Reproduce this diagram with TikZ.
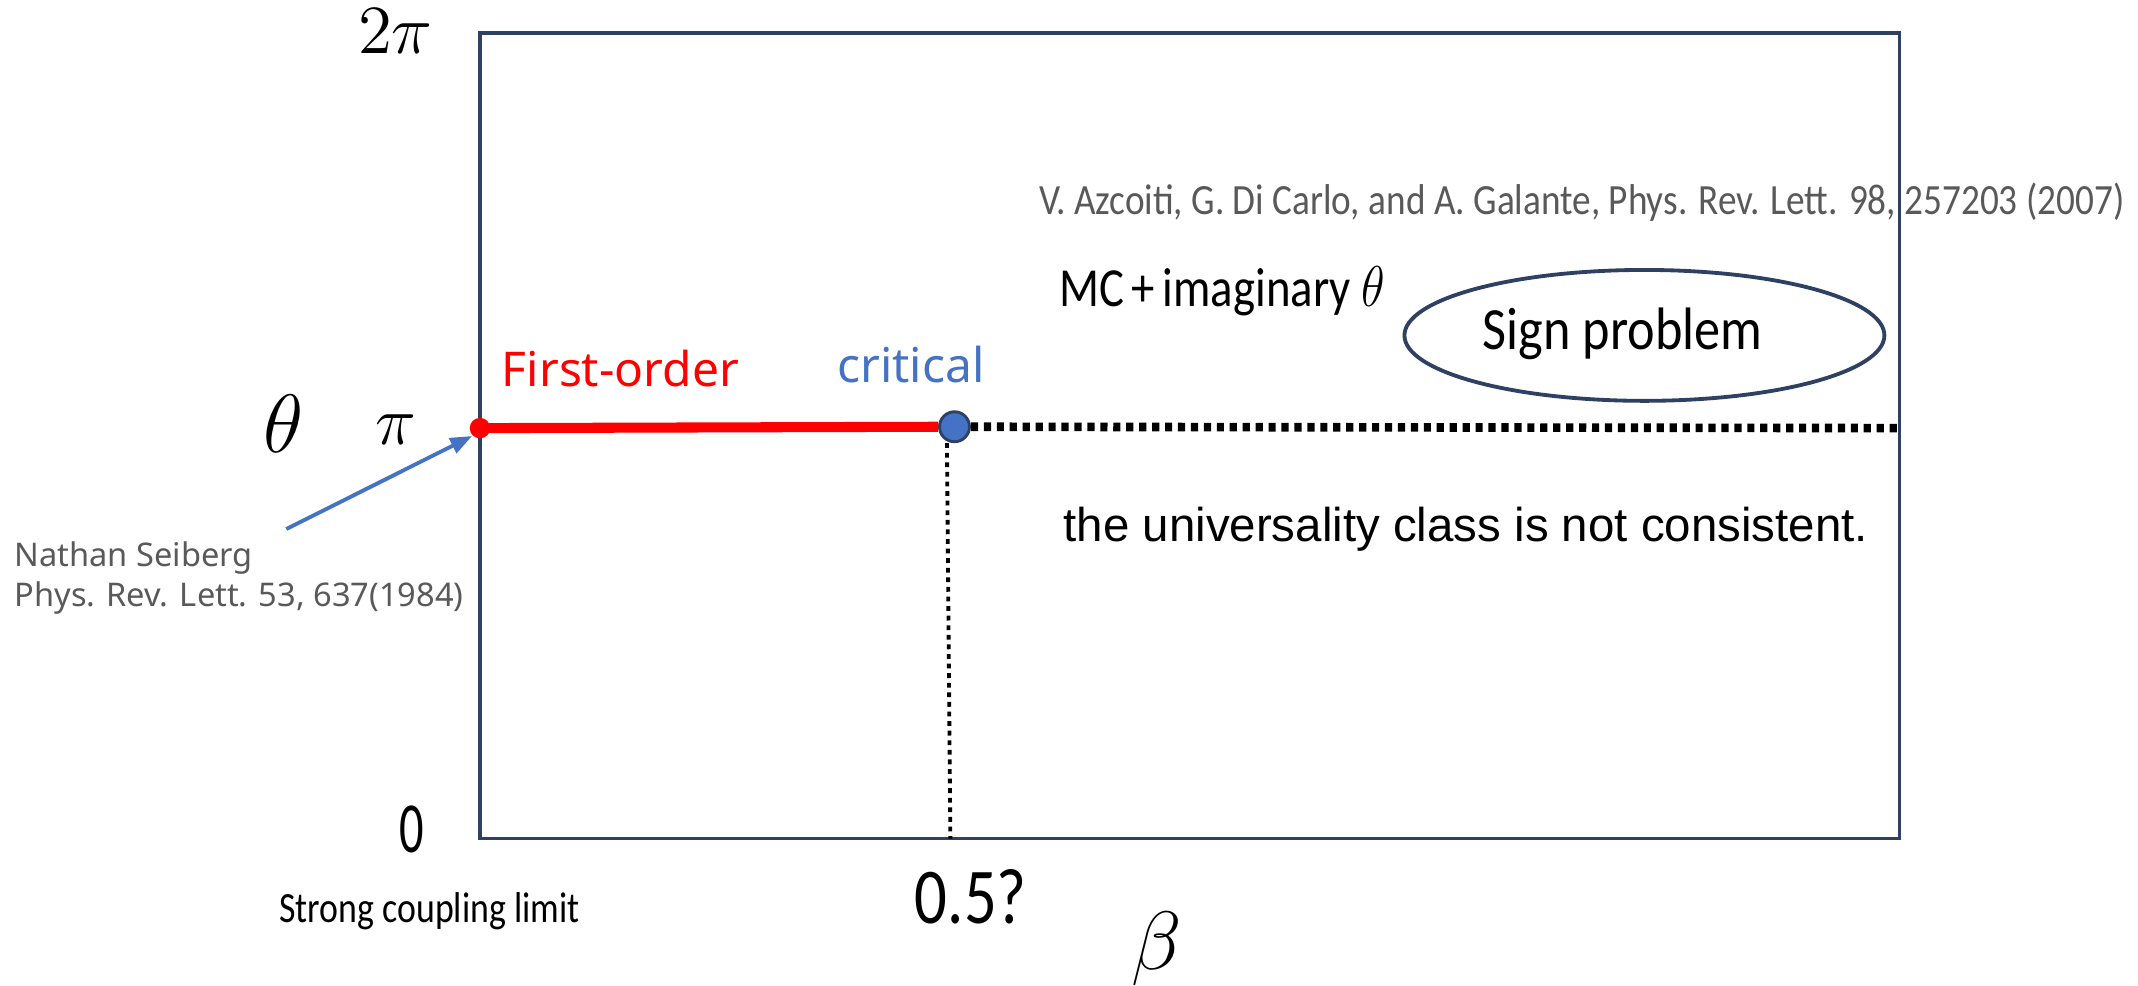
\documentclass[tikz,border=0pt]{standalone}
\usepackage{fontspec}
\usepackage{graphicx}
\setmainfont{Carlito}
\newfontfamily\gothfont{Noto Sans}
\newfontfamily\arialfont{Liberation Sans}
\usetikzlibrary{arrows.meta,shapes.geometric}
\definecolor{navy}{HTML}{2F4163}
\definecolor{refblue}{HTML}{4472C4}
\definecolor{refgray}{HTML}{595959}
\newcommand{\fitw}[2]{\resizebox{#1}{\height}{#2}}

\begin{document}
\begin{tikzpicture}[
  lbl/.style={inner sep=0pt},
  bigdots/.style={line width=1.8pt,dash pattern=on 1.5pt off 1.2pt},
  smalldots/.style={line width=0.8pt,dash pattern=on 1pt off 1pt}]
\useasboundingbox (0,0) rectangle (15.68,7.23);
%\draw[help lines] (0,0) grid (15.68,7.23);
\draw[navy,line width=0.8pt] (3.52,1.08) rectangle (13.93,6.99);

% transition line at theta = pi
\node[circle,fill=red,inner sep=0pt,minimum size=0.15cm] (fo) at (3.52,4.09) {};
\node[circle,fill=refblue,draw=navy,line width=0.6pt,inner sep=0pt,minimum size=0.22cm] (cp) at (7.00,4.10) {};
\coordinate (pe) at (13.93,4.09);
\coordinate (bt) at (6.97,1.08);
\draw[red,line width=2.1pt] (fo.center) -- (cp.west);
\draw[bigdots] (cp.east) -- (pe);
\draw[smalldots] (cp.south west |- cp.south) ++(0.03,0) -- (bt);

% axis labels
\node[lbl,anchor=north,font=\fontsize{13.5}{15}\selectfont] (tp) at (2.90,7.17) {$2\pi$}; %label
\node[lbl,font=\fontsize{13.5}{15}\selectfont] (pi) at (2.90,4.08) {$\pi$}; %label
\node[lbl,font=\fontsize{18}{20}\selectfont] (th) at (2.08,4.12) {$\theta$}; %label
\node[lbl,font=\fontsize{15}{17}\selectfont] (zero) at (3.02,1.15) {\fitw{0.18cm}{0}}; %label
\node[lbl,font=\fontsize{16.5}{18}\selectfont] (half) at (7.12,0.65) {\fitw{0.82cm}{0.5?}}; %label
\node[lbl,anchor=base,font=\fontsize{17}{19}\selectfont] (be) at (8.48,0.12) {$\beta$}; %label
\node[lbl,font=\fontsize{9}{11}\selectfont] (sc) at (3.15,0.55) {\fitw{2.2cm}{Strong coupling limit}}; %label

% phase labels
\node[lbl,red,font=\gothfont\fontsize{10}{12}\selectfont] (fol) at (4.55,4.53) {First-order}; %label
\node[lbl,refblue,font=\gothfont\fontsize{10}{12}\selectfont] (cpl) at (6.68,4.56) {critical}; %label

% references
\node[lbl,refgray,align=left,anchor=west,font=\gothfont\fontsize{6.8}{8.2}\selectfont] (ns) at (0.10,2.99)
  {Nathan Seiberg\\Phys. Rev. Lett. 53, 637(1984)}; %label
\coordinate (ns0) at (2.10,3.35);
\draw[refblue,line width=0.8pt,-{Triangle[length=0.16cm,width=0.12cm]}] (ns0) -- (fo.south west);
\node[lbl,refgray,font=\fontsize{9}{11}\selectfont] (az) at (11.60,5.75)
  {\fitw{7.96cm}{V. Azcoiti, G. Di Carlo, and A. Galante, Phys. Rev. Lett. 98, 257203 (2007)}}; %label

% right part
\node[lbl,anchor=west,font=\fontsize{11.5}{13}\selectfont] (mc) at (7.76,5.09)
  {\fitw{2.39cm}{MC\,+\,imaginary $\theta$}}; %label
\draw[navy,line width=0.8pt] (12.06,4.77) ellipse (1.76 and 0.48);
\node[lbl,font=\fontsize{12.5}{14}\selectfont] (sp) at (11.90,4.78) {\fitw{2.05cm}{Sign problem}}; %label
\node[lbl,font=\arialfont\fontsize{9.9}{12}\selectfont] (uc) at (10.75,3.35)
  {the universality class is not consistent.}; %label
\end{tikzpicture}
\end{document}
